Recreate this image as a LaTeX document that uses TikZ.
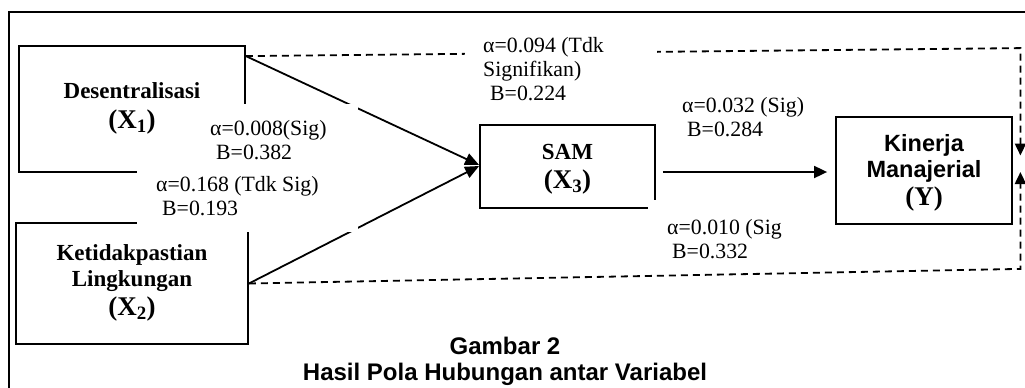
\documentclass[tikz,border=0pt]{standalone}
\usepackage{fontspec}
\setmainfont{Liberation Serif}
\newfontfamily\arialf{Liberation Sans}
\usetikzlibrary{arrows.meta,calc}
\tikzset{
  vbox/.style={draw=black, line width=1.8pt, inner sep=0pt},
  conn/.style={line width=1.8pt, -{Triangle[length=14pt,width=12pt]}},
  dconn/.style={line width=1.8pt, dash pattern=on 7pt off 5pt},
  dtip/.style={-{Triangle[length=12pt,width=11pt]}},
  lbl/.style={font=\fontsize{21.8}{24}\selectfont, align=left, inner sep=0pt, anchor=north west},
  btxt/.style={font=\bfseries\fontsize{23}{26}\selectfont, align=center, inner sep=0pt},
  mask/.style={fill=white},
}
\newcommand{\bigXX}[1]{{\fontsize{27}{30}\selectfont(X\textsubscript{#1})}}
\begin{document}
\begin{tikzpicture}[x=1pt,y=-1pt]
\useasboundingbox (0,0) rectangle (1025,388);
\draw[line width=1.8pt] (9,395) -- (9,12) -- (1035,12);
% boxes
\node[vbox, minimum width=226pt, minimum height=126pt] (x1) at (132,109) {};
\node[vbox, minimum width=232pt, minimum height=121pt] (x2) at (132,283.5) {};
\node[vbox, minimum width=175pt, minimum height=83pt] (sam) at (567.5,166.5) {};
\node[vbox, minimum width=176pt, minimum height=107pt] (y) at (924,170.5) {};
% connectors
\draw[conn] ($(x1.north east)+(0,11)$) -- ($(sam.west)+(0,-1.5)$);
\draw[conn] (x2.east) -- ($(sam.west)+(0,-0.5)$);
\draw[conn, -{Triangle[length=13pt,width=12pt]}] ($(sam.east)+(7,5.5)$) -- ($(y.west)+(-8,1.5)$);
\coordinate (tr) at ($(y.north east)+(7.5,-68)$);
\coordinate (br) at ($(y.south east)+(7.5,44)$);
\draw[dconn, dtip] ($(x1.north east)+(0,11)$) -- (tr) -- ($(y.east)+(7.5,-15)$);
\draw[dconn, dtip] (x2.east) -- (br) -- ($(y.east)+(7.5,1.5)$);
% white label backgrounds
\fill[mask] (137,104) rectangle (358,232);
\fill[mask] (465,32) rectangle (657,104);
\fill[mask] (648,200) rectangle (835,262);
% box texts
\node[btxt] (x1t) at (132,108) {Desentralisasi\\[4pt]\bigXX{1}};
\node[btxt] (x2t) at (132,283) {Ketidakpastian\\Lingkungan\\[3pt]\bigXX{2}};
\node[btxt] (samt) at (567.5,169) {SAM\\[3pt]\bigXX{3}};
\node[btxt] (yt) at (924,173) {{\arialf\fontsize{23.5}{26}\selectfont Kinerja}\\{\arialf\fontsize{23.5}{26}\selectfont Manajerial}\\[2pt]{\fontsize{27}{30}\selectfont(Y)}};
% labels
\node[lbl] (l1) at (210,120) {α=0.008(Sig)\\\hspace*{6pt}B=0.382};
\node[lbl] (l2) at (156,176) {α=0.168 (Tdk Sig)\\\hspace*{6pt}B=0.193};
\node[lbl] (l0) at (483,37) {α=0.094 (Tdk\\Signifikan)\\\hspace*{7pt}B=0.224};
\node[lbl] (l3) at (682,97) {α=0.032 (Sig)\\\hspace*{5pt}B=0.284};
\node[lbl] (l4) at (667,219) {α=0.010 (Sig\\\hspace*{5pt}B=0.332};
% caption
\node[font=\arialf\bfseries\fontsize{24}{26}\selectfont, align=center, inner sep=0pt] (title) at (505,361) {Gambar 2\\Hasil Pola Hubungan antar Variabel};
\end{tikzpicture}
\end{document}
